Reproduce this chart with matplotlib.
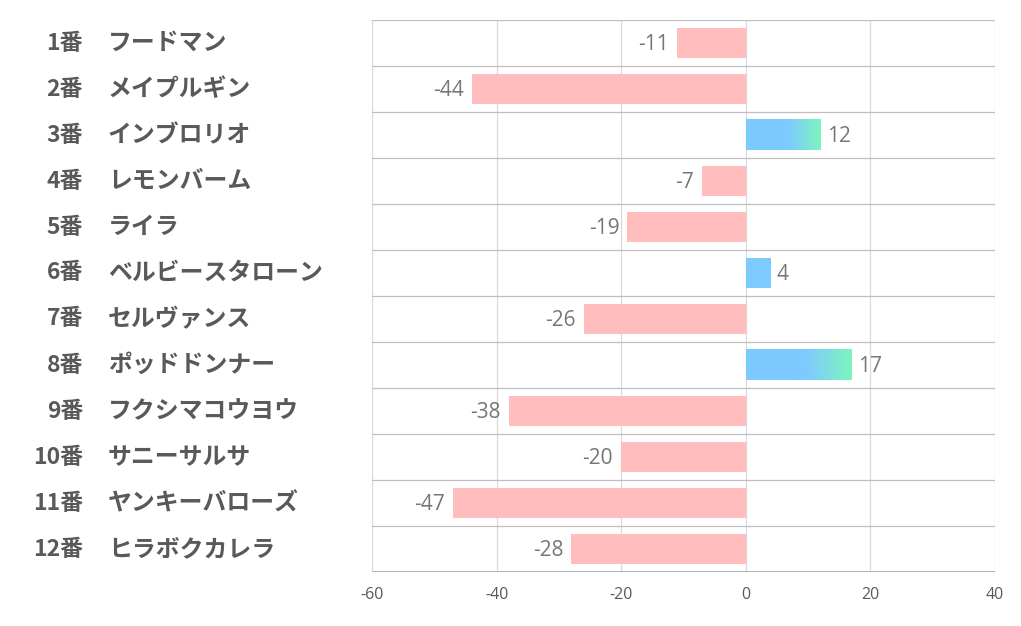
import numpy as np
import matplotlib.pyplot as plt
from matplotlib.colors import LinearSegmentedColormap

plt.rcParams['font.family'] = ['Noto Sans CJK JP', 'DejaVu Sans']

numbers = ['1番', '2番', '3番', '4番', '5番', '6番', '7番', '8番', '9番', '10番', '11番', '12番']
names = ['フードマン', 'メイプルギン', 'インブロリオ', 'レモンバーム', 'ライラ', 'ベルビースタローン',
         'セルヴァンス', 'ポッドドンナー', 'フクシマコウヨウ', 'サニーサルサ', 'ヤンキーバローズ', 'ヒラボクカレラ']
values = [-11, -44, 12, -7, -19, 4, -26, 17, -38, -20, -47, -28]
xticks = [-60, -40, -20, 0, 20, 40]

pink = '#FFBDBE'
blue = '#7DCAFF'
green = '#7EF5BE'
grad = LinearSegmentedColormap.from_list('g', [(0, blue), (0.57, blue), (1, green)])

fig = plt.figure(figsize=(10.21, 6.26), dpi=100)
ax = fig.add_axes([372 / 1021, 1 - 572 / 626, (995 - 372) / 1021, (572 - 20) / 626])

n = len(values)
h = 0.66

for i, v in enumerate(values):
    yc = i + 0.5
    if v < 0:
        ax.barh(yc, v, height=h, color=pink, zorder=2)
        ax.text(v - 1.3, yc + 0.04, str(v), ha='right', va='center', fontsize=15,
                color='#767676', family='Open Sans')
    else:
        if v >= 10:
            img = np.linspace(0, 1, 256).reshape(1, -1)
            ax.imshow(img, cmap=grad, aspect='auto', extent=[0, v, yc + h / 2, yc - h / 2],
                      zorder=2, interpolation='bicubic')
        else:
            ax.barh(yc, v, height=h, color=blue, zorder=2)
        ax.text(v + 1.0, yc + 0.04, str(v), ha='left', va='center', fontsize=15,
                color='#767676', family='Open Sans')
    ax.text(-0.464, 1 - yc / n, numbers[i], transform=ax.transAxes, ha='right', va='center',
            fontsize=16.5, fontweight='bold', color='#595959')
    ax.text(-0.424, 1 - yc / n, names[i], transform=ax.transAxes, ha='left', va='center',
            fontsize=17.2, fontweight='bold', color='#595959')

ax.set_xlim(-60, 40)
ax.set_ylim(n, 0)

for x in xticks:
    ax.axvline(x, color='#D9D9D9', lw=0.9, zorder=1)
for k in range(n):
    ax.axhline(k, color='#BFBFBF', lw=0.9, zorder=3)
ax.axhline(n, color='#A6A6A6', lw=1.2, zorder=3)

for s in ax.spines.values():
    s.set_visible(False)
ax.set_yticks([])
ax.set_xticks(xticks)
ax.set_xticklabels([str(x) for x in xticks], family='Open Sans', fontsize=11.5, color='#595959')
ax.tick_params(axis='x', length=0, pad=11)

fig.savefig('out.png', dpi=100)
